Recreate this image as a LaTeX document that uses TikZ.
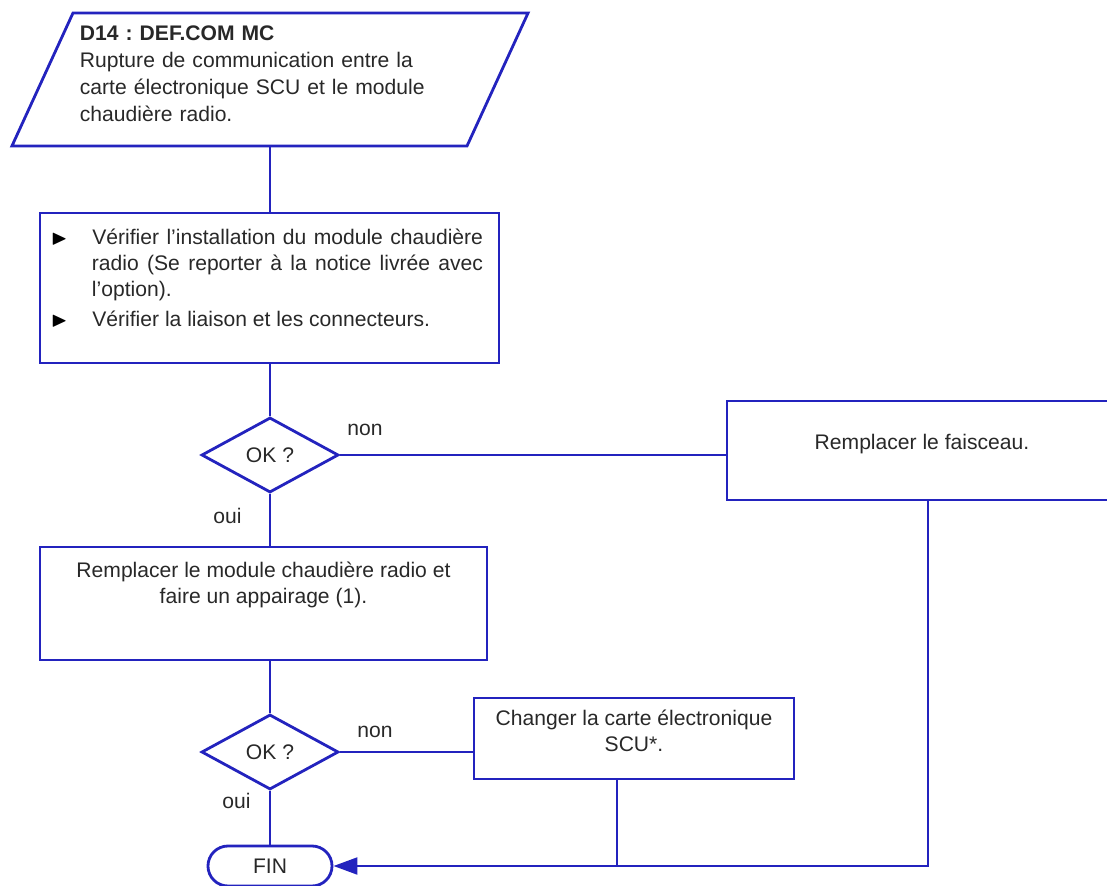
\documentclass[tikz,border=0pt]{standalone}
\usepackage{fontspec}
\setmainfont{Liberation Sans}
\usepackage{amssymb}
\usetikzlibrary{shapes.geometric, shapes.misc, arrows.meta, positioning}

\definecolor{lineblue}{RGB}{35,35,190}
\definecolor{inkgray}{RGB}{40,40,40}

\frenchspacing

% text block of an action box: width, height, space above the first line, text
\newcommand{\boxtext}[4]{\parbox[c][#2][t]{#1}{\centering\hyphenpenalty=10000\vspace*{#3}#4}}

\begin{document}
\begin{tikzpicture}[
    x=0.025cm, y=-0.025cm,
    font=\fontsize{15}{18.5}\selectfont,
    color=lineblue, text=inkgray,
    line width=2pt,
    io/.style={trapezium, trapezium left angle=60.5, trapezium right angle=119.5, trapezium stretches body, draw, minimum width=12.9cm, minimum height=3.325cm, text width=9.5cm, align=left, inner sep=0pt, font=\fontsize{15}{19.2}\selectfont},
    action/.style={rectangle, draw, inner sep=0pt},
    test/.style={diamond, draw, minimum width=3.425cm, minimum height=1.875cm, inner sep=0pt},
    stop/.style={rounded rectangle, draw, minimum width=3.1cm, minimum height=1cm, inner sep=0pt},
    answer/.style={inner sep=0pt},
]
    \path[use as bounding box] (0,0) rectangle (1107,886);
    \clip (0,0) rectangle (1107,886);

    \node[io] (fault) at (270,79.5) {\textbf{D14 : DEF.COM MC}\\Rupture de communication entre la\\carte électronique SCU et le module\\chaudière radio.\par\vspace{0.3cm}};

    \node[action] (check) at (269.5,288) {\parbox[c][3.75cm][t]{11.475cm}{\hrule width \hsize height 0pt\hyphenpenalty=10000\vspace*{0.4cm}%
        \begin{list}{\textcolor{black}{$\blacktriangleright$}}{\setlength{\leftmargin}{1.3cm}\setlength{\rightmargin}{0.4cm}%
            \setlength{\labelsep}{0.62cm}\setlength{\labelwidth}{0.4cm}\setlength{\topsep}{0pt}%
            \setlength{\partopsep}{0pt}\setlength{\itemsep}{3pt}\setlength{\parsep}{0pt}}
        \item Vérifier l'installation du module chaudière\linebreak radio (Se reporter à la notice livrée avec\linebreak l'option).
        \item Vérifier la liaison et les connecteurs.
        \end{list}}};

    \node[test] (ok1) at (270,455) {OK ?};
    \node[action] (harness) at (922,450.5) {\boxtext{9.75cm}{2.475cm}{0.82cm}{Remplacer le faisceau.}};
    \node[action] (replace) at (263.5,603.5) {\boxtext{11.175cm}{2.825cm}{0.375cm}{Remplacer le module chaudière radio et\\faire un appairage (1).}};
    \node[test] (ok2) at (270,752) {OK ?};
    \node[action] (scu) at (634,738.5) {\boxtext{8cm}{2.025cm}{0.3cm}{Changer la carte électronique\\SCU*.}};
    \node[stop] (fin) at (270,866) {FIN};

    \draw (fault.south) -- (fault.south |- check.north);
    \draw (check.south -| ok1.north) -- (ok1.north);
    \draw (ok1.east) -- node[answer, pos=0, anchor=base west, xshift=0.15cm, yshift=0.48cm] {non} (ok1.east -| harness.west);
    \draw (ok1.south) -- node[answer, pos=0.58, anchor=base east, xshift=-0.675cm] {oui} (ok1.south |- replace.north);
    \draw (replace.south -| ok2.north) -- (ok2.north);
    \draw (ok2.east) -- node[answer, pos=0, anchor=base west, xshift=0.4cm, yshift=0.35cm] {non} (ok2.east -| scu.west);
    \draw (ok2.south) -- node[answer, pos=0.32, anchor=base east, xshift=-0.45cm] {oui} (fin.north);

    % both repairs end at FIN
    \draw[-{Triangle[length=0.6cm, width=0.42cm]}] ([xshift=0.15cm]harness.south) |- (fin.east);
    \draw ([xshift=-0.425cm]scu.south) -- ([xshift=-0.425cm]scu.south |- fin.east);

\end{tikzpicture}
\end{document}
